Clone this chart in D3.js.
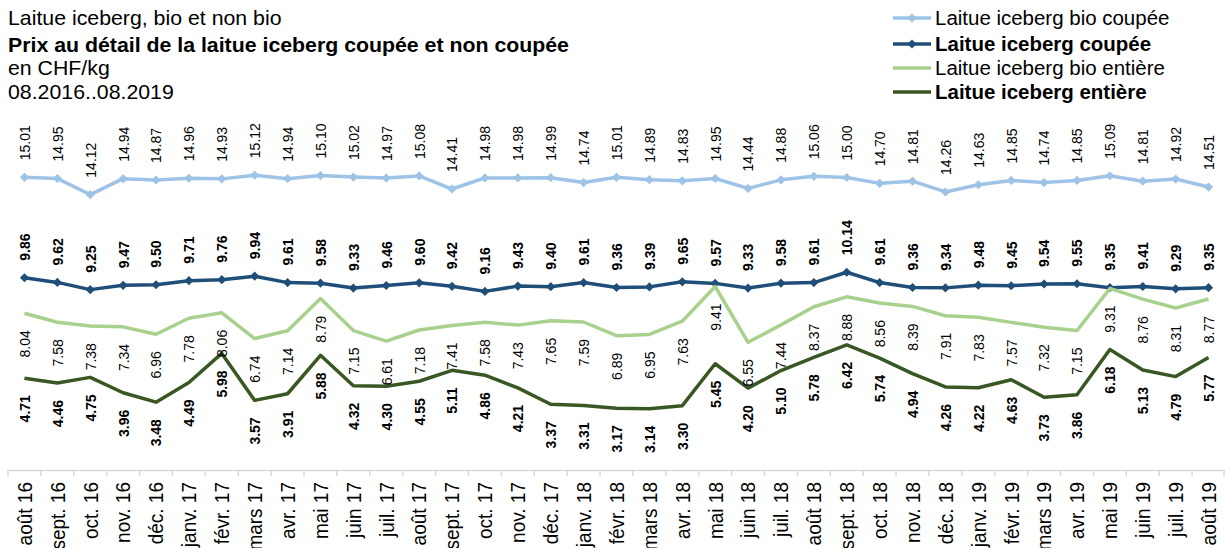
<!DOCTYPE html>
<html>
<head>
<meta charset="utf-8">
<script src="https://cdn.jsdelivr.net/npm/d3@7"></script>
<style>
  body { margin: 0; background: #fff; }
  text { font-family: "Liberation Sans", Arial, sans-serif; fill: #000; }
</style>
</head>
<body>
<svg id="chart"></svg>
<script>
const months = ["août 16","sept. 16","oct. 16","nov. 16","déc. 16","janv. 17","févr. 17","mars 17","avr. 17","mai 17","juin 17","juil. 17",
  "août 17","sept. 17","oct. 17","nov. 17","déc. 17","janv. 18","févr. 18","mars 18","avr. 18","mai 18","juin 18","juil. 18",
  "août 18","sept. 18","oct. 18","nov. 18","déc. 18","janv. 19","févr. 19","mars 19","avr. 19","mai 19","juin 19","juil. 19","août 19"];

const bioCoupee = [15.01,14.95,14.12,14.94,14.87,14.96,14.93,15.12,14.94,15.10,15.02,14.97,15.08,14.41,14.98,14.98,14.99,14.74,15.01,
  14.89,14.83,14.95,14.44,14.88,15.06,15.00,14.70,14.81,14.26,14.63,14.85,14.74,14.85,15.09,14.81,14.92,14.51];
const coupee = [9.86,9.62,9.25,9.47,9.50,9.71,9.76,9.94,9.61,9.58,9.33,9.46,9.60,9.42,9.16,9.43,9.40,9.61,9.36,9.39,9.65,9.57,9.33,
  9.58,9.61,10.14,9.61,9.36,9.34,9.48,9.45,9.54,9.55,9.35,9.41,9.29,9.35];
const bioEntiere = [8.04,7.58,7.38,7.34,6.96,7.78,8.06,6.74,7.14,8.79,7.15,6.61,7.18,7.41,7.58,7.43,7.65,7.59,6.89,6.95,7.63,9.41,
  6.55,7.44,8.37,8.88,8.56,8.39,7.91,7.83,7.57,7.32,7.15,9.31,8.76,8.31,8.77];
const entiere = [4.71,4.46,4.75,3.96,3.48,4.49,5.98,3.57,3.91,5.88,4.32,4.30,4.55,5.11,4.86,4.21,3.37,3.31,3.17,3.14,3.30,5.45,4.20,
  5.10,5.78,6.42,5.74,4.94,4.26,4.22,4.63,3.73,3.86,6.18,5.13,4.79,5.77];

const titleLines = ["Laitue iceberg, bio et non bio", "Prix au détail de la laitue iceberg coupée et non coupée", "en CHF/kg", "08.2016..08.2019"];

const series = [
  { name: "Laitue iceberg bio coupée", values: bioCoupee, color: "#9dc3e6", marker: true, bold: false, pos: "above" },
  { name: "Laitue iceberg coupée", values: coupee, color: "#1f4e79", marker: true, bold: true, pos: "above" },
  { name: "Laitue iceberg bio entière", values: bioEntiere, color: "#a9d18e", marker: false, bold: false, pos: "below" },
  { name: "Laitue iceberg entière", values: entiere, color: "#385723", marker: false, bold: true, pos: "below" }
];

const width = 1225, height = 548;
const stretch = 1.1; // the source text is a little wider than Arial
const svg = d3.select("#chart").attr("width", width).attr("height", height);

const x = d3.scaleBand().domain(months).range([8, 1225]);
const y = d3.scaleLinear().domain([0, 20]).range([470, 80]);
const cx = d => x(d) + x.bandwidth() / 2;

// title block
const title = svg.append("g").attr("transform", "translate(8,0) scale(1.065,1)");
title.selectAll("text")
  .data(titleLines)
  .enter().append("text")
  .attr("x", 0)
  .attr("y", (d, i) => [25, 52, 75, 99][i])
  .style("font-size", "20px")
  .style("font-weight", (d, i) => i === 1 ? "bold" : "normal")
  .text(d => d);

// category axis
const axis = svg.append("g")
  .attr("transform", "translate(0,470)")
  .call(d3.axisBottom(x).tickSize(0).tickSizeOuter(0));
axis.select(".domain").attr("stroke", "#d9d9d9").attr("stroke-width", 1.5);
axis.selectAll(".tick text")
  .attr("transform", `scale(${stretch},1) rotate(-90)`)
  .attr("x", -12)
  .attr("y", 0)
  .attr("dy", "0.35em")
  .style("text-anchor", "end")
  .style("font-size", "19px")
  .style("font-family", "'Liberation Sans', Arial, sans-serif")
  .attr("fill", "#000");
axis.selectAll(".boundary")
  .data(months.map(m => x(m)).concat([x.range()[1] - 1]))
  .enter().append("line")
  .attr("class", "boundary")
  .attr("x1", d => d).attr("x2", d => d)
  .attr("y1", 0).attr("y2", 6)
  .attr("stroke", "#d9d9d9").attr("stroke-width", 1.5);

// lines
const line = d3.line().x((d, i) => cx(months[i])).y(d => y(d));
const diamond = d3.symbol(d3.symbolSquare).size(42);

series.forEach(s => {
  svg.append("path")
    .datum(s.values)
    .attr("fill", "none")
    .attr("stroke", s.color)
    .attr("stroke-width", 3.5)
    .attr("stroke-linejoin", "round")
    .attr("d", line);
  if (s.marker) {
    svg.append("g").selectAll("path")
      .data(s.values)
      .enter().append("path")
      .attr("d", diamond)
      .attr("fill", s.color)
      .attr("transform", (d, i) => `translate(${cx(months[i])},${y(d)}) rotate(45)`);
  }
});

// data labels on top
series.forEach(s => {
  svg.append("g").selectAll("text")
    .data(s.values)
    .enter().append("text")
    .attr("transform", (d, i) => `translate(${cx(months[i])},${y(d) + (s.pos === "above" ? -17 : 17)}) scale(${stretch},1) rotate(-90)`)
    .attr("dy", "0.35em")
    .style("text-anchor", s.pos === "above" ? "start" : "end")
    .style("font-size", "14px")
    .style("font-weight", s.bold ? "bold" : "normal")
    .text(d => d.toFixed(2));
});

// legend
const legend = svg.append("g").attr("transform", "translate(893,0)");
const rows = legend.selectAll("g")
  .data(series)
  .enter().append("g")
  .attr("transform", (d, i) => `translate(0,${[18, 44, 68, 92][i]})`);
rows.append("line")
  .attr("x1", 0).attr("x2", 38)
  .attr("stroke", d => d.color)
  .attr("stroke-width", 3.5);
rows.filter(d => d.marker).append("path")
  .attr("d", diamond)
  .attr("fill", d => d.color)
  .attr("transform", "translate(19,0) rotate(45)");
rows.append("text")
  .attr("transform", "translate(42,0) scale(1.05,1)")
  .attr("dy", "0.35em")
  .style("font-size", "19.5px")
  .style("font-weight", d => d.bold ? "bold" : "normal")
  .text(d => d.name);
</script>
</body>
</html>
